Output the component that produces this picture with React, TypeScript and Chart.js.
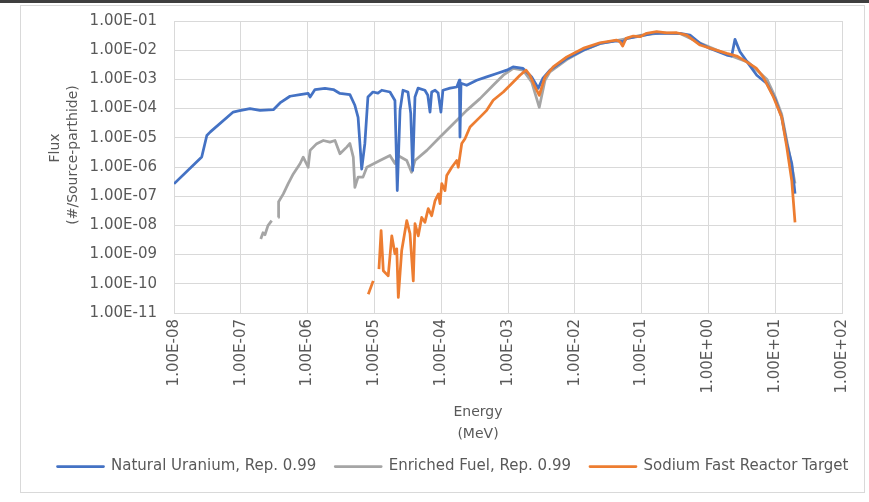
import { useEffect, useRef } from "react";
import { Chart, registerables } from "chart.js";

Chart.register(...registerables);

// Axis decades (MeV on x, flux on y)
const energyTicks = [1e-8, 1e-7, 1e-6, 1e-5, 1e-4, 1e-3, 1e-2, 1e-1, 1e0, 1e1, 1e2];
const fluxTicks = [1e-11, 1e-10, 1e-9, 1e-8, 1e-7, 1e-6, 1e-5, 1e-4, 1e-3, 1e-2, 1e-1];

const seriesNames = [
  "Natural Uranium, Rep. 0.99",
  "Enriched Fuel, Rep. 0.99",
  "Sodium Fast Reactor Target",
];
const xTitle = ["Energy", "(MeV)"];
const yTitle = ["Flux", "(#/Source-parthide)"];

// Natural uranium spectrum
const natUraniumEnergy = [
  1e-8, 2.6e-8, 3.1e-8, 3.5e-8, 7.7e-8, 9.2e-8, 1.37e-7, 1.94e-7, 3.07e-7, 3.86e-7,
  5.45e-7, 7.7e-7, 1.02e-6, 1.09e-6, 1.29e-6, 1.82e-6, 2.43e-6, 3.05e-6, 4.3e-6, 5.1e-6,
  5.7e-6, 6.45e-6, 7.2e-6, 8.0e-6, 9.5e-6, 1.13e-5, 1.29e-5, 1.71e-5, 2.03e-5, 2.2e-5,
  2.42e-5, 2.68e-5, 3.18e-5, 3.5e-5, 3.74e-5, 4.05e-5, 4.5e-5, 5.7e-5, 6.3e-5, 6.8e-5,
  7.2e-5, 8.1e-5, 9.0e-5, 9.9e-5, 1.06e-4, 1.36e-4, 1.71e-4, 1.87e-4, 1.91e-4, 1.98e-4,
  2.41e-4, 3.4e-4, 4.8e-4, 6.8e-4, 9.6e-4, 1.19e-3, 1.68e-3, 2.26e-3, 2.84e-3, 3.34e-3,
  4.25e-3, 7.6e-3, 1.33e-2, 2.38e-2, 4.2e-2, 5.3e-2, 6.0e-2, 9.5e-2, 0.148, 0.238,
  0.376, 0.53, 0.75, 1.06, 1.88, 2.23, 2.5, 2.97, 3.92, 5.3,
  7.5, 9.9, 12.5, 14.9, 17.7, 19.8,
];
const natUraniumFlux = [
  2.65e-7, 2.2e-6, 1.2e-5, 1.6e-5, 7.6e-5, 8.3e-5, 1.0e-4, 8.7e-5, 9.2e-5, 1.56e-4,
  2.65e-4, 3.0e-4, 3.3e-4, 2.5e-4, 4.5e-4, 4.9e-4, 4.5e-4, 3.3e-4, 3.0e-4, 1.3e-4,
  5.0e-5, 8.5e-7, 6.4e-6, 2.5e-4, 3.7e-4, 3.4e-4, 4.25e-4, 3.7e-4, 1.9e-4, 1.56e-7,
  8.7e-5, 4.25e-4, 3.7e-4, 6.9e-5, 7.6e-7, 2.5e-4, 5.0e-4, 4.25e-4, 2.86e-4, 7.6e-5,
  3.7e-4, 4.25e-4, 3.4e-4, 7.6e-5, 4.25e-4, 5.0e-4, 5.5e-4, 9.4e-4, 1.06e-5, 7.4e-4,
  6.3e-4, 9.4e-4, 1.22e-3, 1.6e-3, 2.07e-3, 2.69e-3, 2.37e-3, 1.22e-3, 5.0e-4, 1.1e-3,
  2.07e-3, 5.2e-3, 1.0e-2, 1.71e-2, 2.1e-2, 1.95e-2, 2.54e-2, 3.05e-2, 3.78e-2, 3.78e-2,
  3.78e-2, 3.3e-2, 1.71e-2, 1.15e-2, 6.8e-3, 6.3e-3, 2.35e-2, 8.8e-3, 3.6e-3, 1.39e-3,
  7.2e-4, 2.2e-4, 5.1e-5, 6.4e-6, 1.32e-6, 1.23e-7,
];

// Enriched fuel spectrum (null marks the break in the low-energy tail)
const enrichedEnergy = [
  1.99e-7, 2.15e-7, 2.3e-7, 2.55e-7, 2.9e-7, 3.2e-7, 3.64e-7, 3.68e-7, 4.33e-7, 5.1e-7,
  6.1e-7, 7.7e-7, 8.6e-7, 1.02e-6, 1.09e-6, 1.37e-6, 1.72e-6, 2.16e-6, 2.57e-6, 3.05e-6,
  3.85e-6, 4.3e-6, 4.83e-6, 5.1e-6, 5.7e-6, 6.75e-6, 7.7e-6, 1.21e-5, 1.71e-5, 2.03e-5,
  2.25e-5, 3.05e-5, 3.6e-5, 4.05e-5, 6.1e-5, 9.6e-5, 1.52e-4, 2.41e-4, 3.81e-4, 6.0e-4,
  8.5e-4, 1.2e-3, 1.68e-3, 2.26e-3, 2.94e-3, 3.58e-3, 4.25e-3, 7.6e-3, 1.33e-2, 2.38e-2,
  4.2e-2, 6.0e-2, 9.5e-2, 0.2, 0.376, 0.75, 1.88, 3.92, 7.5, 9.9,
  12.5, 14.9, 17.7, 19.8,
];
const enrichedFlux = [
  3.4e-9, 5.6e-9, 4.8e-9, 9.8e-9, 1.45e-8, null, 1.88e-8, 6.5e-8, 1.2e-7, 2.65e-7,
  5.8e-7, 1.29e-6, 2.17e-6, 9.8e-7, 3.7e-6, 6.3e-6, 8.1e-6, 7.1e-6, 8.1e-6, 2.84e-6,
  4.8e-6, 6.4e-6, 2.17e-6, 2.0e-7, 4.5e-7, 4.5e-7, 9.8e-7, 1.67e-6, 2.48e-6, 1.32e-6,
  2.48e-6, 1.67e-6, 6.6e-7, 1.67e-6, 3.7e-6, 1.06e-5, 3.05e-5, 8.7e-5, 2.2e-4, 6.3e-4,
  1.39e-3, 2.37e-3, 2.07e-3, 8.2e-4, 1.11e-4, 9.4e-4, 1.81e-3, 4.75e-3, 9.7e-3, 1.68e-2,
  2.15e-2, 2.5e-2, 3.2e-2, 3.9e-2, 3.7e-2, 1.75e-2, 7.3e-3, 3.9e-3, 1.02e-3, 2.65e-4,
  6.4e-5, 8.1e-6, 1.13e-6, 2.7e-7,
];

// Sodium fast reactor target spectrum
const sodiumEnergy = [
  8.1e-6, 9.6e-6, 1.05e-5, 1.17e-5, 1.26e-5, 1.36e-5, 1.61e-5, 1.82e-5, 2.03e-5, 2.16e-5,
  2.28e-5, 2.56e-5, 3.05e-5, 3.41e-5, 3.82e-5, 4.05e-5, 4.54e-5, 5.1e-5, 5.7e-5, 6.4e-5,
  7.2e-5, 8.1e-5, 9.1e-5, 9.6e-5, 1.02e-4, 1.14e-4, 1.21e-4, 1.44e-4, 1.71e-4, 1.8e-4,
  2.03e-4, 2.27e-4, 2.7e-4, 3.81e-4, 4.8e-4, 6.0e-4, 8.5e-4, 1.14e-3, 1.51e-3, 1.86e-3,
  2.13e-3, 2.54e-3, 2.94e-3, 3.58e-3, 4.75e-3, 7.6e-3, 1.33e-2, 2.38e-2, 4.2e-2, 4.75e-2,
  5.2e-2, 5.85e-2, 7.5e-2, 9.5e-2, 0.119, 0.168, 0.238, 0.335, 0.473, 0.75,
  1.17, 1.88, 2.65, 3.74, 5.2, 6.6, 9.4, 12.5, 14.9, 17.7,
  19.8,
];
const sodiumFlux = [
  4.4e-11, 1.26e-10, null, 3.2e-10, 6.6e-9, 2.8e-10, 1.87e-10, 4.4e-9, 1.06e-9, 1.58e-9,
  3.4e-11, 1.35e-9, 1.45e-8, 5.2e-9, 1.26e-10, 1.14e-8, 4.4e-9, 1.88e-8, 1.27e-8, 3.75e-8,
  2.15e-8, 7.1e-8, 1.2e-7, 5.6e-8, 2.7e-7, 1.56e-7, 5.1e-7, 9.8e-7, 1.67e-6, 9.8e-7,
  6.4e-6, 9.3e-6, 2.33e-5, 5.1e-5, 8.7e-5, 1.93e-4, 3.7e-4, 7.2e-4, 1.39e-3, 2.07e-3,
  1.39e-3, 5.5e-4, 2.86e-4, 1.22e-3, 2.69e-3, 5.9e-3, 1.15e-2, 1.8e-2, 2.22e-2, 1.95e-2,
  1.38e-2, 2.54e-2, 3.05e-2, 2.9e-2, 3.78e-2, 4.3e-2, 3.9e-2, 3.96e-2, 3.3e-2, 1.5e-2,
  1.09e-2, 7.8e-3, 6.3e-3, 4.0e-3, 2.43e-3, 1.22e-3, 2.5e-4, 5.1e-5, 4.8e-6, 3.4e-7,
  1.27e-8,
];

const TEXT = "#595959";
const GRID = "#d9d9d9";
const FONT = '"DejaVu Sans", sans-serif';

function excelSci(v: number): string {
  const exp = Math.floor(Math.log10(v) + 1e-9);
  const mant = v / Math.pow(10, exp);
  const sign = exp < 0 ? "-" : "+";
  return `${mant.toFixed(2)}E${sign}${String(Math.abs(exp)).padStart(2, "0")}`;
}

function toPoints(xs: number[], ys: (number | null)[]) {
  return xs.map((x, i) => ({ x, y: ys[i] }));
}

// Card outline, axis titles and legend placement
const decorPlugin = {
  id: "decor",
  afterLayout(chart: any) {
    const lg = chart.legend;
    if (lg) {
      lg.left += 32;
      lg.right += 32;
    }
  },
  beforeDraw(chart: any) {
    const { ctx, width, height } = chart;
    ctx.save();
    ctx.fillStyle = "#ffffff";
    ctx.fillRect(0, 0, width, height);
    ctx.fillStyle = "#3f3f3f";
    ctx.fillRect(0, 0, width, 3);
    ctx.strokeStyle = GRID;
    ctx.lineWidth = 1;
    ctx.strokeRect(20.5, 5.5, 844, 487);
    ctx.restore();
  },
  afterDraw(chart: any) {
    const { ctx, chartArea } = chart;
    ctx.save();
    ctx.fillStyle = TEXT;
    ctx.font = `14px ${FONT}`;
    ctx.textAlign = "center";
    ctx.textBaseline = "middle";
    const cx = (chartArea.left + chartArea.right) / 2 - 30;
    ctx.fillText(xTitle[0], cx, chartArea.bottom + 99);
    ctx.fillText(xTitle[1], cx, chartArea.bottom + 121);
    const yCenters = [148, 155];
    const xs = [chartArea.left - 119, chartArea.left - 101];
    yTitle.forEach((t, i) => {
      ctx.save();
      ctx.translate(xs[i], yCenters[i]);
      ctx.rotate(-Math.PI / 2);
      ctx.fillText(t, 0, 0);
      ctx.restore();
    });
    ctx.restore();
  },
};

export default function App() {
  const canvasRef = useRef<HTMLCanvasElement | null>(null);

  useEffect(() => {
    document.body.style.margin = "0";
    const canvas = canvasRef.current;
    if (!canvas) return;

    const line = (label: string, data: any[], color: string, order: number) => ({
      label,
      data,
      borderColor: color,
      backgroundColor: color,
      borderWidth: 2.75,
      borderJoinStyle: "round" as const,
      pointRadius: 0,
      pointHoverRadius: 0,
      showLine: true,
      tension: 0,
      order,
    });

    const chart = new Chart(canvas, {
      type: "scatter",
      data: {
        datasets: [
          line(seriesNames[0], toPoints(natUraniumEnergy, natUraniumFlux), "#4472C4", 1),
          line(seriesNames[1], toPoints(enrichedEnergy, enrichedFlux), "#A5A5A5", 2),
          line(seriesNames[2], toPoints(sodiumEnergy, sodiumFlux), "#ED7D31", 0),
        ],
      },
      options: {
        animation: false,
        responsive: false,
        devicePixelRatio: 1,
        events: [],
        layout: { padding: { left: 0, right: 27, top: 21, bottom: 18 } },
        scales: {
          x: {
            type: "logarithmic",
            min: energyTicks[0],
            max: energyTicks[energyTicks.length - 1],
            afterBuildTicks: (s: any) => {
              s.ticks = energyTicks.map((value) => ({ value }));
            },
            afterFit: (s: any) => {
              s.height = 127;
            },
            grid: { color: GRID, lineWidth: 1, drawTicks: false },
            border: { color: GRID },
            ticks: {
              autoSkip: false,
              minRotation: 90,
              maxRotation: 90,
              padding: 6,
              color: TEXT,
              font: { family: FONT, size: 15 },
              callback: (v: any) => excelSci(Number(v)),
            },
          },
          y: {
            type: "logarithmic",
            min: fluxTicks[0],
            max: fluxTicks[fluxTicks.length - 1],
            afterBuildTicks: (s: any) => {
              s.ticks = fluxTicks.map((value) => ({ value }));
            },
            afterFit: (s: any) => {
              s.width = 174;
              s.paddingTop = 0;
              s.paddingBottom = 0;
            },
            grid: { color: GRID, lineWidth: 1, drawTicks: false },
            border: { color: GRID },
            ticks: {
              padding: 17,
              color: TEXT,
              font: { family: FONT, size: 15 },
              callback: (v: any) => excelSci(Number(v)),
            },
          },
        },
        plugins: {
          legend: {
            position: "bottom",
            labels: {
              boxWidth: 46,
              boxHeight: 0,
              padding: 19,
              color: TEXT,
              font: { family: FONT, size: 15 },
              sort: (a: any, b: any) => a.datasetIndex - b.datasetIndex,
            },
          },
          tooltip: { enabled: false },
        },
      },
      plugins: [decorPlugin],
    } as any);

    return () => chart.destroy();
  }, []);

  return (
    <div style={{ width: 869, height: 502 }}>
      <canvas ref={canvasRef} width={869} height={502} />
    </div>
  );
}
